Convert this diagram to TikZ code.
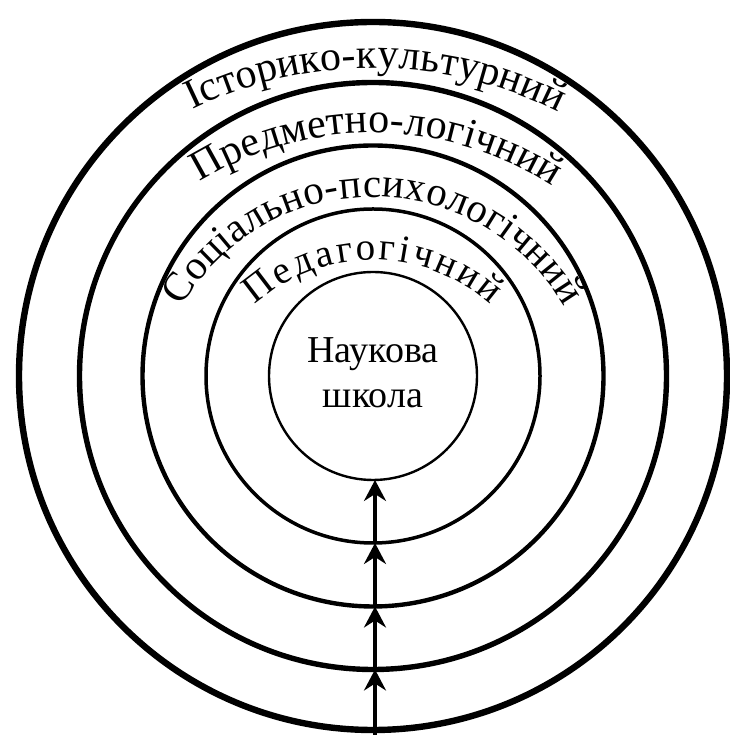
\documentclass[tikz,border=0pt]{standalone}
\usepackage{fontspec}
\setmainfont{Liberation Serif}
\usetikzlibrary{arrows.meta,decorations.text,calc}
\newcommand{\arcfnt}{\fontsize{42}{50}\selectfont}
\newcommand{\arcfntc}{\fontsize{41}{49}\selectfont}
\newcommand{\arcfntb}{\fontsize{39}{47}\selectfont}
\tikzset{
  ring/.style={draw=black, line width=#1, fill=none},
  arr/.style={line width=3.4pt, -{Stealth[length=21pt,width=22pt,inset=7pt]}},
  arctext/.style={decorate, decoration={text along path, text={#1}, text align=fit to path}},
  coretext/.style={font=\fontsize{38}{45}\selectfont, anchor=base, inner sep=0pt}
}
\begin{document}
\begin{tikzpicture}[x=1pt,y=1pt]
\useasboundingbox[fill=white] (0,0) rectangle (729,735);
\coordinate (C) at (373,359);
% rings
\draw[ring=6.4pt] (C) circle[radius=354];
\draw[ring=5.4pt] (C) circle[radius=293.5];
\draw[ring=4.4pt] (C) circle[radius=230.5];
\draw[ring=3.5pt] (C) circle[radius=167];
\draw[ring=2.4pt] (C) circle[radius=104];
% core text
\node[coretext] (t1) at (373,372) {Наукова};
\node[coretext] (t2) at (373,327) {школа};
% arc texts
\path[arctext={|\arcfnt|Історико-культурний}] ($(373,256)+(116.1:411)$) arc[start angle=116.1, end angle=63.9, radius=411];
\path[arctext={|\arcfnt|Предметно-логічний}] ($(373,272)+(121.6:330)$) arc[start angle=121.6, end angle=58.4, radius=330];
\path[arctext={|\arcfntc|Соціально-психологічний}] ($(373,317)+(149.8:221)$) arc[start angle=149.8, end angle=30.2, radius=221];
\path[arctext={|\arcfntb|Педагогічний}] ($(373,298)+(131.8:177)$) arc[start angle=131.8, end angle=48.2, radius=177];
% arrow crossings
\coordinate (p0) at (375,0);
\coordinate (p1) at (375,65.5);
\coordinate (p2) at (375,128.5);
\coordinate (p3) at (375,192);
\coordinate (p4) at (375,255);
\draw[arr] (p0) -- (p1);
\draw[arr] (p1) -- (p2);
\draw[arr] (p2) -- (p3);
\draw[arr] (p3) -- (p4);
\end{tikzpicture}
\end{document}
